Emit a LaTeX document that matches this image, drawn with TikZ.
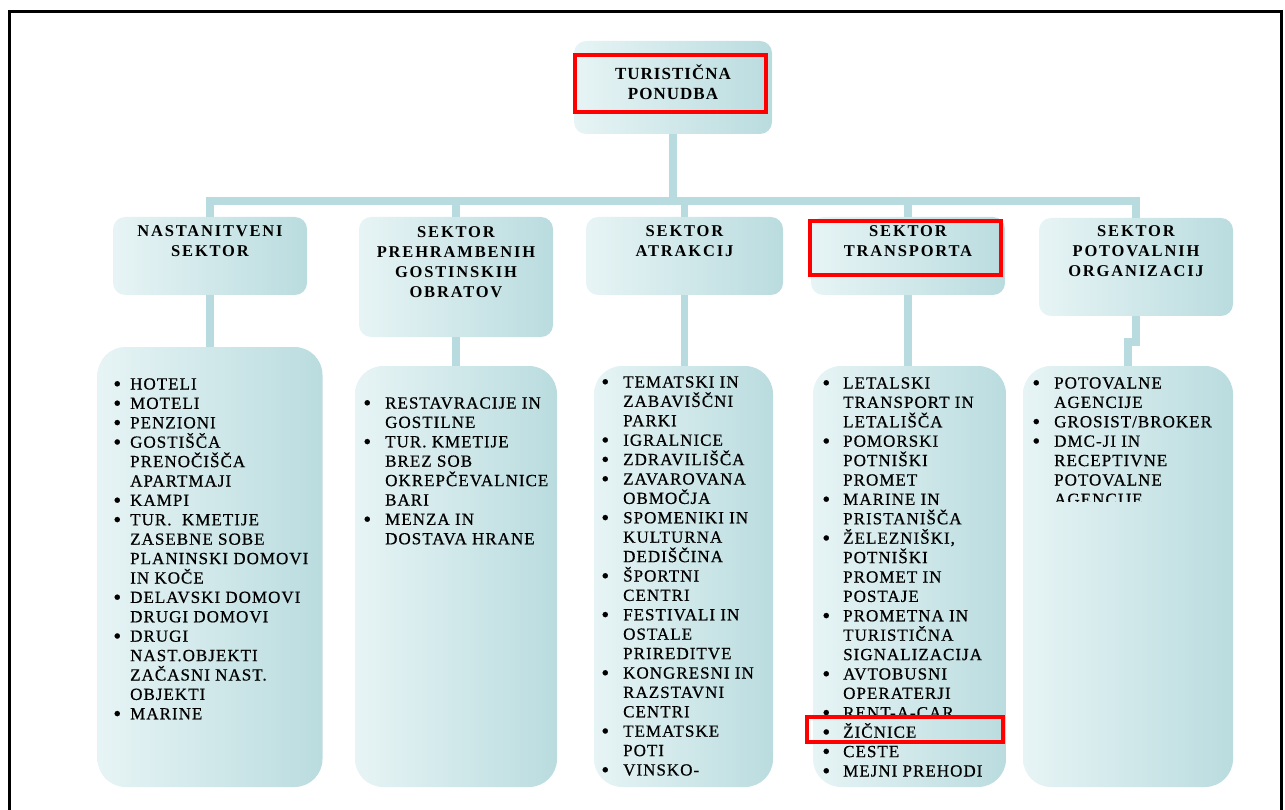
\documentclass[tikz,border=0pt]{standalone}
\usepackage{fontspec}
\setmainfont[LetterSpace=6,FakeBold=0.6]{Liberation Serif}
\newfontfamily\hdfont[LetterSpace=11]{Liberation Serif}
\newfontfamily\topfont[LetterSpace=6]{Liberation Serif}
\definecolor{boxL}{HTML}{E7F4F5}
\definecolor{boxR}{HTML}{BADCDF}
\definecolor{connC}{HTML}{B7DBDE}
\newlength\lstw
\newcommand\hdtext[3]{\fontsize{#1}{20}\selectfont#2\bfseries\begin{tabular}[t]{@{}c@{}}#3\end{tabular}}
\newcommand\lsttext[2]{\fontsize{17}{19.4}\selectfont\setlength\lstw{#1}\vtop{#2}}
\newcommand\bi[1]{\hbox{\makebox[\lstw][l]{\raisebox{-1.6pt}{\scalebox{1.3}{\textbullet}}}#1}}
\newcommand\ci[1]{\hbox{\hspace*{\lstw}#1}}
\begin{document}
\begin{tikzpicture}[x=1pt,y=-1pt,
  sbox/.style={rounded corners=12pt, left color=boxL, right color=boxR, inner sep=0pt},
  lbox/.style={rounded corners=28pt, left color=boxL, right color=boxR, inner sep=0pt},
  conn/.style={draw=connC, line width=7.5pt},
  redbox/.style={draw=red, line width=4pt, inner sep=0pt},
  txt/.style={anchor=base, inner sep=0pt},
  ltxt/.style={anchor=base west, inner sep=0pt}]
\useasboundingbox (0,0) rectangle (1285,810);
% frame
\draw[line width=3pt] (9.5,810) -- (9.5,11.5) -- (1281.5,11.5) -- (1281.5,810);
% boxes
\node[sbox, minimum width=198pt, minimum height=93pt] (top) at (673,87.5) {};
\node[sbox, minimum width=194pt, minimum height=78pt] (h1) at (210,256) {};
\node[sbox, minimum width=194pt, minimum height=120pt] (h2) at (456,277) {};
\node[sbox, minimum width=197pt, minimum height=78pt] (h3) at (684.5,256) {};
\node[sbox, minimum width=194pt, minimum height=78pt] (h4) at (908,256) {};
\node[sbox, minimum width=194pt, minimum height=98pt] (h5) at (1136,267) {};
\node[lbox, minimum width=225pt, minimum height=440pt] (l1) at (210,567) {};
\node[lbox, minimum width=202pt, minimum height=421pt] (l2) at (456,576.5) {};
\node[lbox, minimum width=179pt, minimum height=421pt] (l3) at (683.5,576.5) {};
\node[lbox, minimum width=193pt, minimum height=421pt] (l4) at (909.5,576.5) {};
\node[lbox, minimum width=210pt, minimum height=421pt] (l5) at (1128,576.5) {};
% connectors
\coordinate (bus) at (673,201);
\draw[conn] (top.south) -- (top.south |- bus);
\foreach \h in {h1,h2,h3,h4,h5} \draw[conn] (\h.north) |- (bus);
\foreach \h/\l in {h1/l1,h2/l2,h3/l3,h4/l4} \draw[conn] (\h.south) -- (\h.south |- \l.north);
\draw[conn] (h5.south) -- ++(0,26) -| (l5.north);
% header texts
\node[txt] (t0) at (673,79.5) {\hdtext{17}{\topfont}{TURISTIČNA\\PONUDBA}};
\node[txt] (t1) at (210,237) {\hdtext{16.5}{\hdfont}{NASTANITVENI\\SEKTOR}};
\node[txt] (t2) at (456,237.5) {\hdtext{16.5}{\hdfont}{SEKTOR\\PREHRAMBENIH\\GOSTINSKIH\\OBRATOV}};
\node[txt] (t3) at (684.5,237) {\hdtext{16.5}{\hdfont}{SEKTOR\\ATRAKCIJ}};
\node[txt] (t4) at (908,236.5) {\hdtext{16.5}{\hdfont}{SEKTOR\\TRANSPORTA}};
\node[txt] (t5) at (1136,237) {\hdtext{16.5}{\hdfont}{SEKTOR\\POTOVALNIH\\ORGANIZACIJ}};
% list texts
\node[ltxt] (s1) at (113.2,389.5) {\lsttext{16.8pt}{%
\bi{HOTELI}\bi{MOTELI}\bi{PENZIONI}\bi{GOSTIŠČA}\ci{PRENOČIŠČA}\ci{APARTMAJI}%
\bi{KAMPI}\bi{TUR.\ \ KMETIJE}\ci{ZASEBNE SOBE}\ci{PLANINSKI DOMOVI}\ci{IN KOČE}%
\bi{DELAVSKI DOMOVI}\ci{DRUGI DOMOVI}\bi{DRUGI}\ci{NAST.OBJEKTI}\ci{ZAČASNI NAST.}\ci{OBJEKTI}%
\bi{MARINE}}};
\node[ltxt] (s2) at (363.2,408.5) {\lsttext{21.8pt}{%
\bi{RESTAVRACIJE IN}\ci{GOSTILNE}\bi{TUR. KMETIJE}\ci{BREZ SOB}\ci{OKREPČEVALNICE}\ci{BARI}%
\bi{MENZA IN}\ci{DOSTAVA HRANE}}};
\node[ltxt] (s3) at (601.2,387.5) {\lsttext{21.8pt}{%
\bi{TEMATSKI IN}\ci{ZABAVIŠČNI}\ci{PARKI}\bi{IGRALNICE}\bi{ZDRAVILIŠČA}%
\bi{ZAVAROVANA}\ci{OBMOČJA}\bi{SPOMENIKI IN}\ci{KULTURNA}\ci{DEDIŠČINA}%
\bi{ŠPORTNI}\ci{CENTRI}\bi{FESTIVALI IN}\ci{OSTALE}\ci{PRIREDITVE}%
\bi{KONGRESNI IN}\ci{RAZSTAVNI}\ci{CENTRI}\bi{TEMATSKE}\ci{POTI}\bi{VINSKO-}}};
\node[ltxt] (s4) at (822.2,388.5) {\lsttext{20.8pt}{%
\bi{LETALSKI}\ci{TRANSPORT IN}\ci{LETALIŠČA}\bi{POMORSKI}\ci{POTNIŠKI}\ci{PROMET}%
\bi{MARINE IN}\ci{PRISTANIŠČA}\bi{ŽELEZNIŠKI,}\ci{POTNIŠKI}\ci{PROMET IN}\ci{POSTAJE}%
\bi{PROMETNA IN}\ci{TURISTIČNA}\ci{SIGNALIZACIJA}\bi{AVTOBUSNI}\ci{OPERATERJI}%
\bi{RENT-A-CAR}\bi{ŽIČNICE}\bi{CESTE}\bi{MEJNI PREHODI}}};
\begin{scope}
\clip (1023,360) rectangle (1234,501.5);
\node[ltxt] (s5) at (1032.2,388.5) {\lsttext{21.8pt}{%
\bi{POTOVALNE}\ci{AGENCIJE}\bi{GROSIST/BROKER}\bi{DMC-JI IN}\ci{RECEPTIVNE}\ci{POTOVALNE}\ci{AGENCIJE}}};
\end{scope}
% red highlight frames
\node[redbox, minimum width=191pt, minimum height=57pt] (r1) at (670.5,83.5) {};
\node[redbox, minimum width=191pt, minimum height=54.5pt] (r2) at (905.5,248) {};
\node[redbox, minimum width=196pt, minimum height=25pt] (r3) at (905,729.5) {};
\end{tikzpicture}
\end{document}
